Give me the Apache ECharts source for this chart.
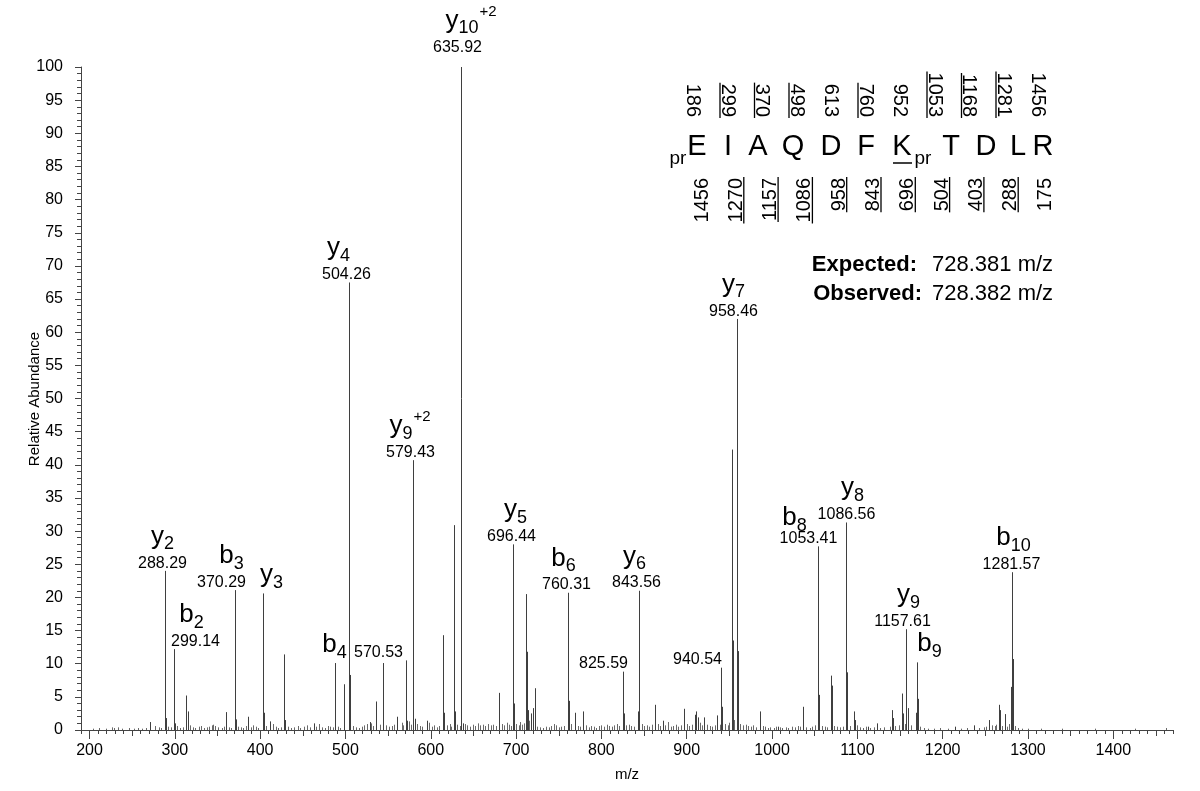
<!DOCTYPE html>
<html>
<head>
<meta charset="utf-8">
<script src="https://cdn.jsdelivr.net/npm/echarts@6/dist/echarts.min.js"></script>
<style>
html,body{margin:0;padding:0;background:#fff;}
#chart{width:1200px;height:791px;}
</style>
</head>
<body>
<div id="chart"></div>
<script>
// ---------------- DATA ----------------
const xTickLabels = [200,300,400,500,600,700,800,900,1000,1100,1200,1300,1400];
const yTickLabels = [0,5,10,15,20,25,30,35,40,45,50,55,60,65,70,75,80,85,90,95,100];

// labelled fragment ions: [m/z, relative abundance]
const ionPeakMz  = [288.29,299.14,370.29,403.26,487.5,570.53,504.26,579.43,635.92,696.44,760.31,825.59,843.56,940.54,958.46,1053.41,1086.56,1157.61,1169.5,1281.57];
const ionPeakInt = [24.0,  12.2,  21.1,  20.6,  10.1, 10.5,  67.5,  40.7,  100,   28.0,  20.7,  8.8,   21.0,  9.4,   62.0,  27.7,   31.3,   15.2,   10.2,  23.8];
const ionType    = ['y','b','b','y','b','','y','y','y','y','b','','y','','y','b','y','y','b','b'];
const ionNum     = ['2','2','3','3','4','','4','9','10','5','6','','6','','7','8','8','9','9','10'];
const ionCharge  = ['','','','','','','','+2','+2','','','','','','','','','','',''];
const ionMzText  = ['288.29','299.14','370.29','','','570.53','504.26','579.43','635.92','696.44','760.31','825.59','843.56','940.54','958.46','1053.41','1086.56','1157.61','','1281.57'];

// other resolved peaks: [m/z, relative abundance]
const otherPeaks = [
  [270.8,1.2],[289.3,1.8],[300.2,1.0],[313.0,5.2],[315.0,2.8],[359.8,2.7],[371.3,1.6],[385.9,2.0],
  [404.5,2.6],[411.7,1.3],[428.3,11.4],[429.6,1.5],[462.8,1.0],[498.3,6.9],[505.8,8.3],[528.4,1.2],
  [535.5,4.3],[544.5,10.1],[560.8,2.0],[572.0,1.4],[581.2,1.7],[595.1,1.4],[613.8,14.3],[615.2,2.6],
  [627.1,30.9],[628.4,2.8],[637.2,1.0],[679.5,5.6],[697.6,4.0],[711.8,20.5],[712.6,11.8],[714.2,3.0],
  [717.9,2.5],[719.8,3.3],[721.8,6.3],[761.6,4.4],[768.5,2.6],[778.6,2.8],[826.6,2.5],[842.6,2.8],
  [862.9,3.8],[872.3,1.4],[896.6,3.2],[909.4,2.3],[911.0,2.8],[913.0,1.9],[920.6,1.9],[935.8,2.2],
  [941.7,3.5],[953.1,42.3],[954.4,13.5],[960.2,11.9],[985.5,2.8],[1007.0,0.5],[1036.6,3.5],[1054.6,5.3],
  [1069.2,8.2],[1070.5,6.7],[1088.0,8.7],[1095.6,2.8],[1097.4,1.5],[1112.0,0.5],[1123.4,1.0],[1140.6,3.0],
  [1141.8,1.8],[1152.3,5.5],[1153.5,2.5],[1159.0,3.3],[1168.2,2.6],[1170.9,4.7],[1214.5,0.5],[1236.8,0.7],
  [1254.0,1.5],[1265.5,3.8],[1266.7,3.0],[1272.6,2.4],[1280.2,6.5],[1282.8,10.7]
];

// baseline noise: [m/z, relative abundance]
const noisePeaks = [
  [204,0.2],[211,0.3],[219,0.2],[226,0.4],[229,0.3],[233,0.4],[238,0.2],[246,0.3],[252,0.2],[257,0.3],[262,0.2],[266,0.3],
  [277,0.6],[281,0.4],[284,0.3],[292,0.5],[295,0.4],[303,0.6],[306,0.3],[309,0.4],[318,0.7],[321,0.4],[324,0.3],[328,0.5],
  [331,0.6],[334,0.3],[338,0.4],[340,0.5],[343,0.7],[345,0.8],[347,0.6],[351,0.4],[355,0.3],[358,0.5],[363,0.4],[366,0.3],
  [374,0.5],[377,0.4],[380,0.3],[383,0.6],[389,0.4],[392,0.7],[395,0.5],[398,0.3],[407,0.6],[415,0.9],[418,0.5],[421,0.3],
  [424,0.4],[433,0.5],[436,0.3],[440,0.4],[444,0.6],[447,0.3],[451,0.5],[455,0.7],[458,0.4],[466,0.5],[469,0.9],[472,0.4],
  [476,0.3],[479,0.6],[482,0.5],[485,0.4],[491,0.5],[494,0.3],[509,0.6],[512,0.4],[516,0.3],[519,0.5],[522,0.7],[525,0.9],
  [530,1.0],[532,0.6],[540,0.8],[548,0.7],[551,0.5],[554,0.6],[557,0.8],[566,1.1],[568,0.7],[575,1.3],[577,0.8],[584,0.9],
  [587,0.6],[590,0.5],[598,1.1],[601,0.5],[604,0.7],[607,0.4],[610,0.6],[619,0.7],[622,0.9],[624,0.5],[631,0.8],[634,0.6],
  [640,0.9],[643,0.7],[646,0.5],[649,0.8],[652,0.6],[655,1.0],[658,0.7],[661,0.8],[664,0.6],[667,0.9],[670,0.7],[673,0.8],
  [676,0.6],[683,0.9],[686,0.7],[689,1.1],[692,0.8],[694,0.6],[700,0.9],[703,0.7],[705,1.2],[707,0.8],[709,1.0],[715,1.4],
  [725,0.5],[728,0.4],[732,0.3],[735,0.5],[738,0.4],[741,0.6],[744,0.9],[747,0.7],[750,0.4],[753,0.5],[756,0.6],[764,0.9],
  [772,0.6],[775,0.5],[782,0.7],[785,0.4],[788,0.6],[791,0.5],[794,0.3],[797,0.6],[800,0.7],[803,0.5],[806,0.8],[809,0.6],
  [812,0.5],[815,0.7],[818,0.9],[821,0.6],[829,0.7],[832,0.8],[835,0.6],[838,0.5],[847,0.9],[850,0.6],[853,0.7],[856,0.5],
  [859,0.8],[866,0.9],[869,0.6],[875,0.7],[878,1.2],[881,0.5],[884,0.6],[887,0.8],[890,0.5],[893,0.7],[900,0.9],[903,0.6],
  [906,0.8],[916,1.1],[918,0.7],[924,0.8],[927,0.6],[930,0.5],[933,0.7],[939,0.8],[945,0.9],[948,0.7],[950,1.1],[956,1.5],
  [963,0.9],[966,0.7],[969,0.8],[972,0.6],[975,0.5],[978,0.7],[981,0.4],[989,0.6],[992,0.5],[995,0.3],[998,0.4],[1002,0.3],
  [1005,0.5],[1009,0.4],[1012,0.3],[1016,0.4],[1019,0.3],[1023,0.5],[1027,0.4],[1030,0.6],[1033,0.5],[1040,0.4],[1044,0.3],
  [1047,0.5],[1050,0.7],[1058,0.6],[1062,0.5],[1065,0.4],[1073,0.6],[1076,0.5],[1080,0.4],[1083,0.5],[1091,0.6],[1100,0.7],
  [1103,0.4],[1107,0.3],[1110,0.5],[1115,0.3],[1119,0.4],[1127,0.3],[1131,0.4],[1138,0.5],[1144,0.6],[1149,0.7],[1156,0.9],
  [1163,0.7],[1174,0.5],[1178,0.3],[1183,0.2],[1190,0.2],[1197,0.3],[1206,0.2],[1221,0.2],[1228,0.3],[1243,0.3],[1248,0.4],
  [1251,0.5],[1258,0.7],[1261,0.6],[1263,0.8],[1269,0.6],[1276,0.5],[1278,0.9],[1285,0.6],[1288,0.3],[1293,0.2],[1300,0.2],
  [1315,0.2],[1340,0.2],[1379,0.2],[1425,0.2],[1462,0.3]
];

// sequence annotation
const residues  = ['E','I','A','Q','D','F','K','T','D','L','R'];
const bLadder   = ['186','299','370','498','613','760','952','1053','1168','1281','1456'];
const bSeen     = [false,true,true,true,false,true,false,true,true,true,false];
const yLadder   = ['1456','1270','1157','1086','958','843','696','504','403','288','175'];
const ySeen     = [false,true,true,true,true,true,true,true,true,true,false];
const precursor = {expected:'728.381 m/z', observed:'728.382 m/z'};

// ---------------- LAYOUT / STYLE ----------------
const FONT = '"Liberation Sans", Arial, Helvetica, sans-serif';
const labelNudge = [ // [ionDx, mzDx, dy] in px
  [-3,-3,0],[17,21,0],[-4,-14,0],[8,0,0],[-1,0,0],[0,-28,0],[-11,-3,0],[-4,-3,0],[9,-4,-12],[2,-2,0],
  [-5,-2,0],[0,-20,0],[-5,-3,0],[0,-24,0],[-4,-4,0],[-24,-10,0],[6,0,0],[2,-4,0],[12,0,0],[1,-1,0]
];
const ionDyExtra = {15:6};
const measureCtx = document.createElement('canvas').getContext('2d');
function tw(t, fs, bold){ measureCtx.font = (bold?'bold ':'') + fs + 'px ' + FONT; return measureCtx.measureText(t).width; }
function txt(x, baseline, t, fs, align, bold){
  return {type:'text', x:x, y:baseline - 0.36*fs, silent:true,
    style:{text:t, font:(bold?'bold ':'') + fs + 'px ' + FONT, fill:'#000', align:align||'left', verticalAlign:'middle'}};
}

const midTicks = [], minorTicks = [];
for (let v = 250; v <= 1450; v += 100) midTicks.push(v);
for (let v = 190; v <= 1470; v += 10) if (v % 50 !== 0) minorTicks.push(v);

const chart = echarts.init(document.getElementById('chart'), null, {renderer:'canvas'});

function stickRender(color){
  return function(params, api){
    const x = api.value(0), y = api.value(1);
    const p0 = api.coord([x, 0]), p1 = api.coord([x, y]);
    const px = Math.round(p0[0]) + 0.5;
    return {type:'line', shape:{x1:px, y1:p0[1], x2:px, y2:p1[1]}, style:{stroke:color, lineWidth:1}};
  };
}

const ionData = ionPeakMz.map((m,i)=>[m, ionPeakInt[i], i]);

function labelRender(params, api){
  const i = api.value(2);
  const p = api.coord([api.value(0), api.value(1)]);
  const px = Math.round(p[0]) + 0.5, top = p[1] + labelNudge[i][2];
  const nd = labelNudge[i];
  const kids = [];
  if (ionMzText[i]) kids.push(txt(px + nd[1], top - 2, ionMzText[i], 16, 'center'));
  if (ionType[i]) {
    const base = top - (ionMzText[i] ? 25 : 9) + (ionDyExtra[i] || 0);
    const w1 = tw(ionType[i], 26), w2 = tw(ionNum[i], 18), w3 = ionCharge[i] ? tw(ionCharge[i], 15) : 0;
    const x0 = px + nd[0] - (w1 + w2 + w3) / 2;
    kids.push(txt(x0, base, ionType[i], 26, 'left'));
    kids.push(txt(x0 + w1, base + 5, ionNum[i], 18, 'left'));
    if (ionCharge[i]) kids.push(txt(x0 + w1 + w2 + 1, base - 13, ionCharge[i], 15, 'left'));
  }
  return {type:'group', children:kids};
}

// sequence graphic
const graphics = [];
const topX0 = 693, topStep = 34.5, botX0 = 702, botStep = 34.3;
bLadder.forEach((t,i)=>{
  const x = topX0 + topStep*i;
  graphics.push({type:'text', x:x, y:117, rotation:-Math.PI/2, silent:true,
    style:{text:t, font:'20px ' + FONT, fill:'#000', align:'right', verticalAlign:'middle'}});
  if (bSeen[i]) {
    const L = tw(t, 20);
    graphics.push({type:'line', silent:true, shape:{x1:x-7.5, y1:118, x2:x-7.5, y2:116-L}, style:{stroke:'#000', lineWidth:1.3}});
  }
});
yLadder.forEach((t,i)=>{
  const x = botX0 + botStep*i;
  graphics.push({type:'text', x:x, y:178, rotation:Math.PI/2, silent:true,
    style:{text:t, font:'20px ' + FONT, fill:'#000', align:'right', verticalAlign:'middle'}});
  if (ySeen[i]) {
    const L = tw(t, 20);
    graphics.push({type:'line', silent:true, shape:{x1:x+7.5, y1:177, x2:x+7.5, y2:179+L}, style:{stroke:'#000', lineWidth:1.3}});
  }
});
const resX = [697,728,758,793,831,866,902,951,986,1018,1043];
residues.forEach((r,i)=>{
  graphics.push({type:'text', x:resX[i], y:157 - 0.36*29, silent:true,
    style:{text:r, font:'29px ' + FONT, fill:'#000', align:'center', verticalAlign:'middle'}});
});
graphics.push({type:'text', x:678, y:166 - 0.36*19, silent:true, style:{text:'pr', font:'19px ' + FONT, fill:'#000', align:'center', verticalAlign:'middle'}});
graphics.push({type:'text', x:923, y:166 - 0.36*19, silent:true, style:{text:'pr', font:'19px ' + FONT, fill:'#000', align:'center', verticalAlign:'middle'}});
graphics.push({type:'line', silent:true, shape:{x1:893, y1:163, x2:912, y2:163}, style:{stroke:'#000', lineWidth:1.5}});
graphics.push({type:'text', x:917, y:273 - 0.36*22, silent:true, style:{text:'Expected:', font:'bold 22px ' + FONT, fill:'#000', align:'right', verticalAlign:'middle'}});
graphics.push({type:'text', x:932, y:273 - 0.36*22, silent:true, style:{text:precursor.expected, font:'22px ' + FONT, fill:'#000', align:'left', verticalAlign:'middle'}});
graphics.push({type:'text', x:922, y:302 - 0.36*22, silent:true, style:{text:'Observed:', font:'bold 22px ' + FONT, fill:'#000', align:'right', verticalAlign:'middle'}});
graphics.push({type:'text', x:932, y:302 - 0.36*22, silent:true, style:{text:precursor.observed, font:'22px ' + FONT, fill:'#000', align:'left', verticalAlign:'middle'}});
// y axis title
graphics.push({type:'text', x:35, y:399, rotation:Math.PI/2, silent:true,
  style:{text:'Relative Abundance', font:'15px ' + FONT, fill:'#000', align:'center', verticalAlign:'middle'}});

const axisColor = '#444';
const plain = v => String(v);
const baseX = {type:'value', min:190, max:1470, position:'bottom', splitLine:{show:false}};
const option = {
  animation:false,
  backgroundColor:'#fff',
  textStyle:{fontFamily:FONT},
  grid:{left:81, right:27, top:67, bottom:61, containLabel:false},
  xAxis:[
    Object.assign({}, baseX, {
      name:'m/z', nameLocation:'middle', nameGap:37,
      nameTextStyle:{fontSize:15, color:'#000', fontFamily:FONT},
      axisLine:{show:true, onZero:false, lineStyle:{color:axisColor, width:1}},
      axisTick:{show:true, customValues:xTickLabels, length:9, lineStyle:{color:axisColor}},
      axisLabel:{show:true, customValues:xTickLabels, formatter:plain, fontSize:16, color:'#000', margin:13, fontFamily:FONT}
    }),
    Object.assign({}, baseX, {
      axisLine:{show:false}, axisLabel:{show:false},
      axisTick:{show:true, customValues:midTicks, length:6, lineStyle:{color:axisColor}}
    }),
    Object.assign({}, baseX, {
      axisLine:{show:false}, axisLabel:{show:false},
      axisTick:{show:true, customValues:minorTicks, length:4, lineStyle:{color:axisColor}}
    })
  ],
  yAxis:{
    type:'value', min:0, max:100, interval:5,
    axisLine:{show:true, lineStyle:{color:axisColor, width:1}},
    axisTick:{show:true, length:6, lineStyle:{color:axisColor}},
    minorTick:{show:true, splitNumber:5, length:4, lineStyle:{color:axisColor}},
    axisLabel:{fontSize:16, color:'#000', margin:18, fontFamily:FONT, formatter:plain,
      customValues: yTickLabels},
    splitLine:{show:false}
  },
  graphic:graphics,
  series:[
    {type:'custom', name:'noise', xAxisIndex:0, yAxisIndex:0, data:noisePeaks, renderItem:stickRender('#6a6a6a'), silent:true, clip:false, z:2},
    {type:'custom', name:'peaks', xAxisIndex:0, yAxisIndex:0, data:otherPeaks, renderItem:stickRender('#3f3f3f'), silent:true, clip:false, z:3},
    {type:'custom', name:'ions', xAxisIndex:0, yAxisIndex:0, data:ionData, renderItem:stickRender('#3f3f3f'), silent:true, clip:false, z:3},
    {type:'custom', name:'ionLabels', xAxisIndex:0, yAxisIndex:0, data:ionData, renderItem:labelRender, silent:true, clip:false, z:5}
  ]
};
chart.setOption(option);
</script>
</body>
</html>
